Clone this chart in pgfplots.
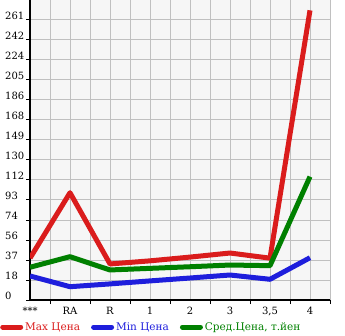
\documentclass[border=0pt]{standalone}
\usepackage{pgfplots}
\pgfplotsset{compat=1.18}
\usepackage{fontspec}
\setmainfont{DejaVu Serif}
\definecolor{cred}{RGB}{218,28,28}
\definecolor{cblue}{RGB}{30,30,220}
\definecolor{cgreen}{RGB}{0,128,0}
\definecolor{bgc}{RGB}{246,246,246}
\definecolor{gridc}{RGB}{192,192,192}
\begin{document}
\begin{tikzpicture}[x=1pt,y=1pt]
\begin{axis}[
  at={(0,0)}, anchor=south west,
  scale only axis, width=300pt, height=300pt,
  xmin=0, xmax=7.5, ymin=0, ymax=279.64,
  axis background/.style={fill=bgc},
  axis x line*=bottom, axis y line*=left,
  axis line style={line width=2pt, black},
  xtick={0,...,7},
  xticklabels={***,RA,R,1,2,3,{3,5},4},
  minor xtick={0.5,1.5,...,7.5},
  ytick={0,18.643,37.286,55.929,74.571,93.214,111.857,130.5,149.143,167.786,186.429,205.071,223.714,242.357,261},
  yticklabels={0,18,37,56,74,93,112,130,149,168,186,205,224,242,261},
  grid=both,
  major grid style={gridc, line width=1pt},
  minor grid style={gridc, line width=1pt},
  tick align=outside,
  major tick length=4pt, minor tick length=4pt,
  tick style={black, line width=1pt},
  major x tick style={/pgfplots/major tick length=0pt},
  tick label style={font=\fontsize{10}{11}\selectfont},
  yticklabel style={anchor=south west, inner sep=0pt, xshift=-21pt},
  xticklabel style={yshift=0pt},
  legend style={at={(-0.1,-0.09)}, anchor=west, draw=none, fill=none,
    legend columns=3, font=\fontsize{10.5}{12}\selectfont, inner xsep=0pt,
    /tikz/every even column/.append style={column sep=9pt}},
  legend image code/.code={\draw[#1, line width=5pt, line cap=round] (3pt,0) -- (21pt,0);},
  every axis plot/.append style={line width=5pt, line join=round},
]
\addplot[cred] coordinates {(0,39) (1,100) (2,33.6) (3,36.5) (4,40) (5,43.8) (6,39) (7,270)};
\addlegendentry{\textcolor{cred}{Max Цена}}
\addplot[cblue] coordinates {(0,22.4) (1,12.4) (2,15) (3,17.8) (4,20.5) (5,23.3) (6,19.3) (7,39.4)};
\addlegendentry{\textcolor{cblue}{Min Цена}}
\addplot[cgreen] coordinates {(0,30.5) (1,40.4) (2,28) (3,29.5) (4,31) (5,32.6) (6,32) (7,115)};
\addlegendentry{\textcolor{cgreen}{Сред.Цена, т.йен}}
\end{axis}
\pgfresetboundingbox
\path (-30,-35) rectangle (315,300);
\end{tikzpicture}
\end{document}
